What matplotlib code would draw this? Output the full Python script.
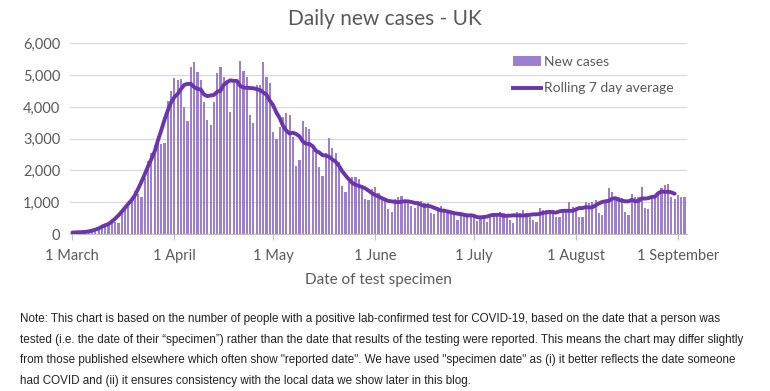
import numpy as np
import pandas as pd
import matplotlib
matplotlib.use("Agg")
import matplotlib.pyplot as plt
from matplotlib.lines import Line2D
from matplotlib.patches import Patch

# Daily new cases by specimen date, 1 March .. 3 September
new_cases = [
    # March
    30, 40, 50, 60, 70, 80, 70, 90, 170, 210,
    270, 340, 480, 380, 360, 700, 850, 1000, 1150, 1350,
    1250, 1180, 1750, 2300, 2550, 2800, 3100, 2830, 2850, 4200,
    4500,
    # April
    4900, 4850, 4870, 3990, 3570, 5270, 5420, 5110, 4850, 4170,
    3590, 3430, 4170, 5060, 5270, 4950, 4850, 3850, 4740, 4740,
    5460, 5140, 4950, 3750, 3480, 4690, 4690, 5420, 4950, 4740,
    # May
    3220, 2980, 3380, 3670, 3800, 3750, 3060, 2140, 2330, 3570,
    3380, 3290, 2640, 2540, 2100, 1840, 2540, 3010, 2700, 2560,
    2270, 1510, 1330, 1650, 1800, 1780, 1720, 1490, 1090, 1070,
    1410,
    # June
    1490, 1280, 1180, 1070, 780, 700, 1090, 1180, 1200, 1050,
    1010, 880, 820, 1050, 1050, 990, 970, 670, 630, 860,
    880, 760, 700, 670, 650, 440, 700, 670, 650, 600,
    # July
    550, 420, 550, 560, 390, 600, 670, 650, 680, 670,
    550, 440, 340, 700, 670, 750, 650, 530, 440, 390,
    810, 760, 760, 740, 760, 520, 550, 700, 700, 1020,
    860,
    # August
    760, 520, 550, 1020, 990, 1020, 1070, 650, 600, 970,
    1440, 1310, 1180, 1160, 1130, 700, 600, 1260, 1180, 1180,
    1470, 810, 780, 1180, 1200, 1280, 1440, 1540, 1570, 1150,
    1090,
    # September
    1230, 1150, 1150,
]
month_labels = ["1 March", "1 April", "1 May", "1 June", "1 July", "1 August", "1 September"]
month_start_days = [0, 31, 61, 92, 122, 153, 184]
y_ticks = [0, 1000, 2000, 3000, 4000, 5000, 6000]

note = (
    "Note: This chart is based on the number of people with a positive lab-confirmed test for COVID-19, based on the date that a person was\n"
    "tested (i.e. the date of their \u201cspecimen\u201d) rather than the date that results of the testing were reported. This means the chart may differ slightly\n"
    "from those published elsewhere which often show \"reported date\". We have used \"specimen date\" as (i) it better reflects the date someone\n"
    "had COVID and (ii) it ensures consistency with the local data we show later in this blog."
)

BAR_COLOR = "#9d7fd0"
LINE_COLOR = "#6a35ad"
TEXT_COLOR = "#595959"

days = np.arange(len(new_cases))
rolling = pd.Series(new_cases).rolling(7, center=True, min_periods=4).mean()
rolling = rolling.where(days <= len(new_cases) - 4)

plt.rcParams["font.family"] = ["Lato", "DejaVu Sans"]

fig = plt.figure(figsize=(7.7, 3.91), dpi=100)
ax = fig.add_axes([0.091, 0.4015, 0.801, 0.4875])

ax.bar(days, new_cases, width=0.66, color=BAR_COLOR, edgecolor="none", zorder=2)
ax.plot(days, rolling, color=LINE_COLOR, linewidth=2.8, solid_capstyle="round", zorder=3)

ax.set_xlim(-0.7, len(new_cases) - 0.3)
ax.set_ylim(0, 6000)
ax.set_yticks(y_ticks)
ax.set_yticklabels([f"{v:,}" for v in y_ticks])
ax.set_xticks(month_start_days)
ax.set_xticklabels(month_labels)
ax.tick_params(axis="y", length=0, labelsize=10.5, labelcolor=TEXT_COLOR, pad=7)
ax.tick_params(axis="x", length=4, color="#bfbfbf", labelsize=10.5, labelcolor=TEXT_COLOR, pad=7)
ax.grid(axis="y", color="#d9d9d9", linewidth=0.9, zorder=0)
for side in ["top", "right", "left"]:
    ax.spines[side].set_visible(False)
ax.spines["bottom"].set_color("#bfbfbf")
ax.set_xlabel("Date of test specimen", fontsize=11, color=TEXT_COLOR, labelpad=7)

handles = [
    Patch(facecolor=BAR_COLOR, edgecolor="none"),
    Line2D([0], [0], color=LINE_COLOR, linewidth=2.8),
]
ax.legend(handles, ["New cases", "Rolling 7 day average"], loc="upper left",
          bbox_to_anchor=(0.698, 1.0), frameon=False, fontsize=10,
          labelcolor=TEXT_COLOR, handlelength=2.0, handletextpad=0.25,
          labelspacing=1.05)

fig.text(0.5, 0.952, "Daily new cases - UK", ha="center", va="center",
         fontsize=15, color=TEXT_COLOR)

fig.text(0.026, 0.199, note, ha="left", va="top", fontsize=8.4,
         family=["Liberation Sans", "DejaVu Sans"], color="#222222",
         linespacing=1.95)

fig.savefig("out.png", dpi=100, facecolor="white")
